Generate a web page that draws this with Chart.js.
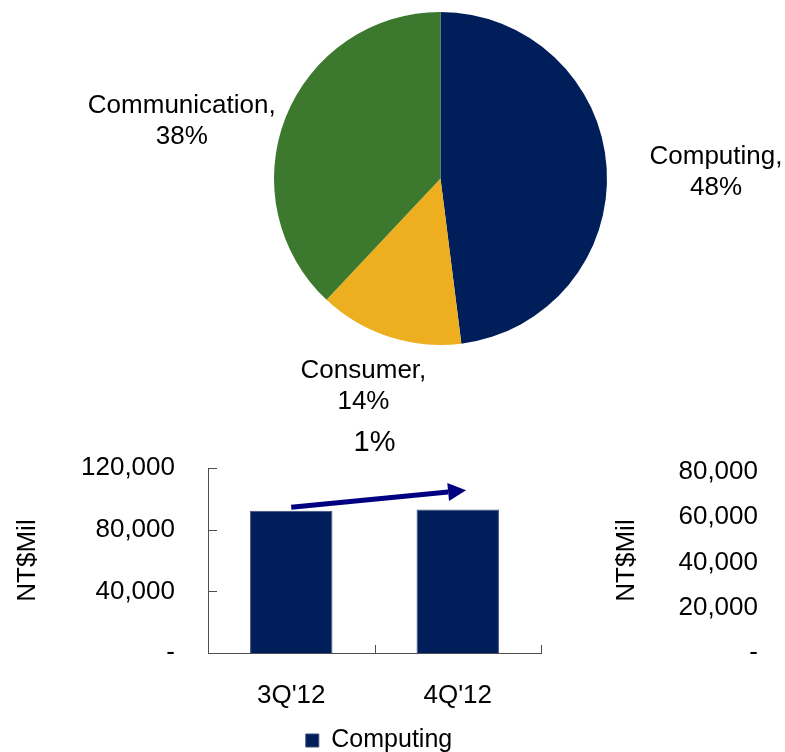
<!DOCTYPE html>
<html>
<head>
<meta charset="utf-8">
<script src="https://cdn.jsdelivr.net/npm/chart.js@4.4.1/dist/chart.umd.min.js"></script>
<style>
  html, body { margin: 0; background: #fff; overflow: hidden; }
  #wrap { position: relative; width: 785px; height: 752px; overflow: hidden; }
  canvas { position: absolute; left: 0; }
</style>
</head>
<body>
<div id="wrap">
  <canvas id="pieChart" width="785" height="420" style="top:0"></canvas>
  <canvas id="barChart" width="785" height="343" style="top:420px"></canvas>
</div>
<script>
// pie: revenue mix by segment (%)
const segmentNames = ['Computing', 'Consumer', 'Communication'];
const segmentShares = [48, 14, 38];
const segmentColors = ['#001E5A', '#EDAE20', '#3C782D'];

// bars: computing revenue, NT$ million
const quarters = ["3Q'12", "4Q'12"];
const computingRevenue = [92300, 93100];
const leftTicks = [0, 40000, 80000, 120000];
const rightTicks = [0, 20000, 40000, 60000, 80000];
const rightAxisMax = 81800;

// growth arrow, in data units [category index, value]
const growthLabel = '1%';
const arrowFrom = [0, 94600];
const arrowTo = [1.05, 105600];

const FONT = '"Liberation Sans", Arial, sans-serif';
const AXIS = '#4d4d4d';
Chart.defaults.font.family = FONT;
Chart.defaults.color = '#000';

// nudges for the outside pie labels [dx, dy]
const labelNudge = [[23, 7], [0, 1], [2, 23]];

const fmt = v => v === 0 ? '-' : Number(v).toLocaleString('en-US');

const pieLabels = {
  id: 'pieLabels',
  afterDraw(chart) {
    const ctx = chart.ctx;
    const meta = chart.getDatasetMeta(0);
    const total = segmentShares.reduce((a, b) => a + b, 0);
    ctx.save();
    ctx.font = '26px ' + FONT;
    ctx.fillStyle = '#000';
    ctx.textAlign = 'center';
    ctx.textBaseline = 'middle';
    meta.data.forEach((arc, i) => {
      const p = arc.getProps(['x', 'y', 'startAngle', 'endAngle', 'outerRadius'], true);
      const mid = (p.startAngle + p.endAngle) / 2;
      const dx = Math.cos(mid), dy = Math.sin(mid);
      const lines = [segmentNames[i] + ',', Math.round(segmentShares[i] / total * 100) + '%'];
      const w = Math.max(...lines.map(l => ctx.measureText(l).width));
      const lh = 31;
      const h = lh * lines.length;
      const r = p.outerRadius + 20;
      const cx = p.x + dx * r + dx * w / 2 + labelNudge[i][0];
      const cy = p.y + dy * r + dy * h / 2 + labelNudge[i][1];
      lines.forEach((l, k) => ctx.fillText(l, cx, cy + (k - (lines.length - 1) / 2) * lh));
    });
    ctx.restore();
  }
};

new Chart(document.getElementById('pieChart'), {
  type: 'pie',
  data: {
    labels: segmentNames,
    datasets: [{ data: segmentShares, backgroundColor: segmentColors, borderWidth: 0 }]
  },
  options: {
    responsive: false,
    animation: false,
    layout: { padding: { left: 200, right: 104, top: 12, bottom: 75 } },
    plugins: { legend: { display: false }, tooltip: { enabled: false } }
  },
  plugins: [pieLabels]
});

// small inward tick marks like the original
const axisTicks = {
  id: 'axisTicks',
  afterDraw(chart) {
    const { ctx, scales: { x, y }, chartArea: a } = chart;
    ctx.save();
    ctx.strokeStyle = AXIS;
    ctx.lineWidth = 1;
    ctx.beginPath();
    y.ticks.forEach(t => {
      const py = Math.round(y.getPixelForValue(t.value)) + 0.5;
      ctx.moveTo(a.left, py);
      ctx.lineTo(a.left + 9, py);
    });
    quarters.forEach((q, i) => {
      const px = Math.round(x.getPixelForValue(i + 0.5)) + 0.5;
      ctx.moveTo(px, a.bottom);
      ctx.lineTo(px, a.bottom - 8);
    });
    ctx.stroke();
    ctx.restore();
  }
};

const growthArrow = {
  id: 'growthArrow',
  afterDatasetsDraw(chart) {
    const { ctx, scales: { x, y, y1 }, chartArea: a } = chart;
    const x0 = x.getPixelForValue(arrowFrom[0]), y0 = y.getPixelForValue(arrowFrom[1]);
    const x1 = x.getPixelForValue(arrowTo[0]), y1p = y.getPixelForValue(arrowTo[1]);
    const ang = Math.atan2(y1p - y0, x1 - x0);
    const headLen = 18, headHalf = 9;
    const bx = x1 - Math.cos(ang) * headLen, by = y1p - Math.sin(ang) * headLen;
    ctx.save();
    ctx.strokeStyle = '#000080';
    ctx.fillStyle = '#000080';
    ctx.lineWidth = 5;
    ctx.beginPath();
    ctx.moveTo(x0, y0);
    ctx.lineTo(bx, by);
    ctx.stroke();
    ctx.beginPath();
    ctx.moveTo(x1, y1p);
    ctx.lineTo(bx + Math.sin(ang) * headHalf, by - Math.cos(ang) * headHalf);
    ctx.lineTo(bx - Math.sin(ang) * headHalf, by + Math.cos(ang) * headHalf);
    ctx.closePath();
    ctx.fill();

    ctx.fillStyle = '#000';
    ctx.textAlign = 'center';
    ctx.textBaseline = 'middle';
    ctx.font = '29px ' + FONT;
    ctx.fillText(growthLabel, x.getPixelForValue(0.5), a.top - 25);

    // title of the right-hand axis sits between plot and labels
    ctx.font = '26px ' + FONT;
    ctx.translate(y1.left + 86, (a.top + a.bottom) / 2);
    ctx.rotate(-Math.PI / 2);
    ctx.fillText('NT$Mil', 0, 0);
    ctx.restore();
  }
};

// keep the big label padding from pushing the plot area down
const fitVertical = width => s => {
  s.width = width;
  s.paddingTop = 0;
  s.paddingBottom = 0;
};

new Chart(document.getElementById('barChart'), {
  type: 'bar',
  data: {
    labels: quarters,
    datasets: [{
      label: 'Computing',
      data: computingRevenue,
      backgroundColor: '#001E5A',
      borderColor: '#3E4E7A',
      borderWidth: 1,
      categoryPercentage: 1,
      barPercentage: 0.495,
      yAxisID: 'y'
    }]
  },
  options: {
    responsive: false,
    animation: false,
    layout: { padding: { left: 0, right: 27, top: 48, bottom: 0 } },
    scales: {
      x: {
        grid: { display: false, drawTicks: false },
        border: { color: AXIS, width: 1 },
        afterFit: s => { s.height = 69; },
        ticks: { padding: 27, font: { size: 26 }, color: '#000', maxRotation: 0 }
      },
      y: {
        position: 'left',
        min: 0,
        max: 120000,
        afterBuildTicks: s => { s.ticks = leftTicks.map(v => ({ value: v })); },
        afterFit: fitVertical(208),
        grid: { display: false, drawTicks: false },
        border: { color: AXIS, width: 1 },
        ticks: { padding: 33, font: { size: 26 }, color: '#000', callback: fmt, autoSkip: false },
        title: { display: true, text: 'NT$Mil', font: { size: 26 }, color: '#000', padding: { top: 12, bottom: 0 } }
      },
      y1: {
        position: 'right',
        min: 0,
        max: rightAxisMax,
        afterBuildTicks: s => { s.ticks = rightTicks.map(v => ({ value: v })); },
        afterFit: fitVertical(217),
        grid: { display: false, drawTicks: false },
        border: { display: false },
        ticks: { padding: 137, crossAlign: 'far', font: { size: 26 }, color: '#000', callback: fmt, autoSkip: false }
      }
    },
    plugins: {
      legend: {
        position: 'bottom',
        labels: { boxWidth: 13, boxHeight: 13, font: { size: 25 }, color: '#000', padding: 6 }
      },
      tooltip: { enabled: false }
    }
  },
  plugins: [axisTicks, growthArrow]
});
</script>
</body>
</html>
